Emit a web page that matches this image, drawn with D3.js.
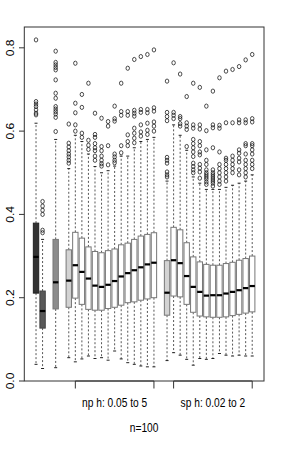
<!DOCTYPE html>
<html>
<head>
<meta charset="utf-8">
<script src="https://cdn.jsdelivr.net/npm/d3@7"></script>
<style>
  body { margin: 0; background: #fff; }
  text { font-family: "Liberation Sans", Arial, sans-serif; fill: #000; }
</style>
</head>
<body>
<div id="chart"></div>
<script>
// box positions along x (R style: at = ...)
const positions = [1, 2, 4, 6, 7, 8, 9, 10, 11, 12, 13, 14, 15, 16, 17, 18, 19,
  21, 22, 23, 24, 25, 26, 27, 28, 29, 30, 31, 32, 33, 34]

const q3 = [0.379, 0.216, 0.340, 0.315, 0.357, 0.343, 0.322, 0.311, 0.308, 0.313, 0.317, 0.327, 0.331, 0.340, 0.348, 0.352, 0.356,
  0.289, 0.369, 0.363, 0.332, 0.298, 0.286, 0.280, 0.278, 0.278, 0.282, 0.285, 0.290, 0.294, 0.300]
const medians = [0.298, 0.168, 0.237, 0.241, 0.278, 0.262, 0.246, 0.229, 0.226, 0.231, 0.240, 0.251, 0.259, 0.266, 0.273, 0.280, 0.284,
  0.212, 0.290, 0.283, 0.252, 0.226, 0.214, 0.205, 0.206, 0.206, 0.210, 0.214, 0.218, 0.223, 0.228]
const q1 = [0.211, 0.127, 0.173, 0.177, 0.199, 0.184, 0.172, 0.170, 0.170, 0.174, 0.177, 0.182, 0.188, 0.190, 0.194, 0.197, 0.200,
  0.158, 0.204, 0.202, 0.184, 0.165, 0.156, 0.154, 0.153, 0.153, 0.154, 0.157, 0.160, 0.163, 0.166]
const whiskerLo = [0.040, 0.030, 0.032, 0.056, 0.046, 0.053, 0.060, 0.054, 0.056, 0.050, 0.072, 0.053, 0.044, 0.040, 0.036, 0.034, 0.034,
  0.049, 0.068, 0.062, 0.052, 0.038, 0.054, 0.052, 0.054, 0.066, 0.062, 0.060, 0.062, 0.060, 0.060]
const whiskerHi = [0.619, 0.340, 0.580, 0.510, 0.590, 0.575, 0.545, 0.515, 0.500, 0.505, 0.516, 0.540, 0.540, 0.560, 0.575, 0.580, 0.585,
  0.480, 0.615, 0.590, 0.554, 0.490, 0.475, 0.460, 0.460, 0.460, 0.465, 0.470, 0.475, 0.480, 0.495]
const outliers = [
  [0.819, 0.671, 0.665, 0.659, 0.651, 0.643, 0.639],
  [0.431, 0.420, 0.410, 0.400, 0.362, 0.356],
  [0.792, 0.765, 0.759, 0.753, 0.747, 0.723, 0.691, 0.679, 0.659, 0.653, 0.647, 0.641, 0.633, 0.599],
  [0.617, 0.571, 0.562, 0.553, 0.545, 0.538, 0.530, 0.523],
  [0.763, 0.667, 0.644, 0.615, 0.600],
  [0.688, 0.657, 0.595, 0.585],
  [0.715, 0.578, 0.566, 0.556],
  [0.643, 0.592, 0.585, 0.570, 0.560, 0.553, 0.540, 0.530],
  [0.631, 0.563, 0.553, 0.540, 0.530, 0.522, 0.516],
  [0.623, 0.612, 0.565, 0.519],
  [0.660, 0.630, 0.624, 0.545, 0.538, 0.530, 0.524],
  [0.715, 0.647, 0.638, 0.565, 0.548],
  [0.751, 0.647, 0.638, 0.591, 0.575, 0.565],
  [0.772, 0.650, 0.643, 0.636, 0.607, 0.595, 0.583, 0.572],
  [0.779, 0.652, 0.645, 0.615, 0.598, 0.588],
  [0.784, 0.652, 0.644, 0.619, 0.602, 0.592],
  [0.795, 0.656, 0.648, 0.622, 0.612, 0.600],
  [0.720, 0.645, 0.635, 0.625, 0.537, 0.530, 0.523, 0.502, 0.495, 0.490],
  [0.764, 0.645, 0.638, 0.630],
  [0.737, 0.635, 0.630, 0.618, 0.612],
  [0.683, 0.620, 0.612, 0.604, 0.563],
  [0.715, 0.615, 0.607, 0.580, 0.570, 0.560, 0.550, 0.539, 0.523, 0.515, 0.507, 0.500],
  [0.705, 0.615, 0.605, 0.575, 0.565, 0.550, 0.543, 0.520, 0.511, 0.502, 0.487],
  [0.660, 0.601, 0.555, 0.530, 0.520, 0.507, 0.500, 0.495, 0.490, 0.485, 0.478, 0.472],
  [0.696, 0.615, 0.608, 0.560, 0.507, 0.500, 0.495, 0.490, 0.485, 0.480, 0.475, 0.468],
  [0.728, 0.614, 0.607, 0.550, 0.520, 0.510, 0.500, 0.490, 0.480, 0.472],
  [0.744, 0.620, 0.535, 0.530, 0.520, 0.510, 0.500, 0.490, 0.480],
  [0.748, 0.620, 0.540, 0.530, 0.520, 0.510, 0.500],
  [0.755, 0.627, 0.620, 0.555, 0.547, 0.535, 0.526, 0.507, 0.495],
  [0.771, 0.627, 0.620, 0.570, 0.565, 0.545, 0.530, 0.520, 0.510, 0.500, 0.490],
  [0.784, 0.630, 0.622, 0.570, 0.565, 0.555, 0.545, 0.530, 0.520, 0.510]
]

const yTicks = [0, 0.2, 0.4, 0.6, 0.8]
const yTickLabels = ['0.0', '0.2', '0.4', '0.6', '0.8']
const groupLabels = ['np h: 0.05 to 5', 'sp h: 0.02 to 2']
const groupSpans = [[7, 19], [22, 34]]
const subtitle = 'n=100'

// styling, not data
const fills = {1: '#333333', 2: '#595959', 4: '#8c8c8c', 6: '#d3d3d3', 21: '#d3d3d3'}
const borders = {1: '#222222', 2: '#444444'}

const W = 284, H = 463
const svg = d3.select('#chart').append('svg')
  .attr('width', W)
  .attr('height', H)

const x = d3.scaleLinear().domain([-0.79, 35.8]).range([24.3, 264])
const y = d3.scaleLinear().domain([0, 0.85]).range([381, 27])
const half = 0.41

const boxes = positions.map((p, i) => ({
  p, q1: q1[i], med: medians[i], q3: q3[i],
  lo: whiskerLo[i], hi: whiskerHi[i], out: outliers[i]
}))

// whiskers
const wg = svg.append('g')
boxes.forEach(b => {
  wg.append('line')
    .attr('x1', x(b.p)).attr('x2', x(b.p))
    .attr('y1', y(b.q3)).attr('y2', y(b.hi))
    .attr('stroke', '#444').attr('stroke-width', 0.9)
    .attr('stroke-dasharray', '2,2')
  wg.append('line')
    .attr('x1', x(b.p)).attr('x2', x(b.p))
    .attr('y1', y(b.q1)).attr('y2', y(b.lo))
    .attr('stroke', '#444').attr('stroke-width', 0.9)
    .attr('stroke-dasharray', '2,2')
  // staples
  ;[b.lo, b.hi].forEach(v => {
    wg.append('line')
      .attr('x1', x(b.p) - 1.5).attr('x2', x(b.p) + 1.5)
      .attr('y1', y(v)).attr('y2', y(v))
      .attr('stroke', '#222').attr('stroke-width', 1)
  })
})

// boxes
const bg = svg.append('g')
boxes.forEach(b => {
  bg.append('rect')
    .attr('x', x(b.p - half))
    .attr('y', y(b.q3))
    .attr('width', x(b.p + half) - x(b.p - half))
    .attr('height', y(b.q1) - y(b.q3))
    .attr('fill', fills[b.p] || '#ffffff')
    .attr('stroke', borders[b.p] || '#777777')
    .attr('stroke-width', 1)
  bg.append('line')
    .attr('x1', x(b.p - half)).attr('x2', x(b.p + half))
    .attr('y1', y(b.med)).attr('y2', y(b.med))
    .attr('stroke', '#000').attr('stroke-width', 2.2)
})

// outliers
const og = svg.append('g')
boxes.forEach(b => {
  b.out.forEach(v => {
    og.append('ellipse')
      .attr('cx', x(b.p)).attr('cy', y(v))
      .attr('rx', 1.75).attr('ry', 2.1)
      .attr('fill', 'none')
      .attr('stroke', '#111').attr('stroke-width', 0.75)
  })
})

// frame
svg.append('rect')
  .attr('x', 24.3).attr('y', 27)
  .attr('width', 264 - 24.3).attr('height', 381 - 27)
  .attr('fill', 'none').attr('stroke', '#333').attr('stroke-width', 1)

// y axis ticks + rotated labels
const ya = svg.append('g')
yTicks.forEach((t, i) => {
  ya.append('line')
    .attr('x1', 19).attr('x2', 24.3)
    .attr('y1', y(t)).attr('y2', y(t))
    .attr('stroke', '#333')
  ya.append('text')
    .attr('transform', `translate(14,${y(t)}) scale(0.85,1) rotate(-90)`)
    .attr('text-anchor', 'middle')
    .style('font-size', '12px')
    .text(yTickLabels[i])
})

// group axes on the bottom
groupSpans.forEach((s, i) => {
  const g = svg.append('g')
  g.append('line')
    .attr('x1', x(s[0])).attr('x2', x(s[1]))
    .attr('y1', 381).attr('y2', 381)
    .attr('stroke', '#333')
  s.forEach(v => {
    g.append('line')
      .attr('x1', x(v)).attr('x2', x(v))
      .attr('y1', 381).attr('y2', 388.5)
      .attr('stroke', '#333')
  })
  g.append('text')
    .attr('transform', `translate(${x((s[0] + s[1]) / 2)},407) scale(0.85,1)`)
    .attr('text-anchor', 'middle')
    .style('font-size', '12px')
    .text(groupLabels[i])
})

svg.append('text')
  .attr('transform', `translate(${(24.3 + 264) / 2},432) scale(0.85,1)`)
  .attr('text-anchor', 'middle')
  .style('font-size', '12px')
  .text(subtitle)
</script>
</body>
</html>
